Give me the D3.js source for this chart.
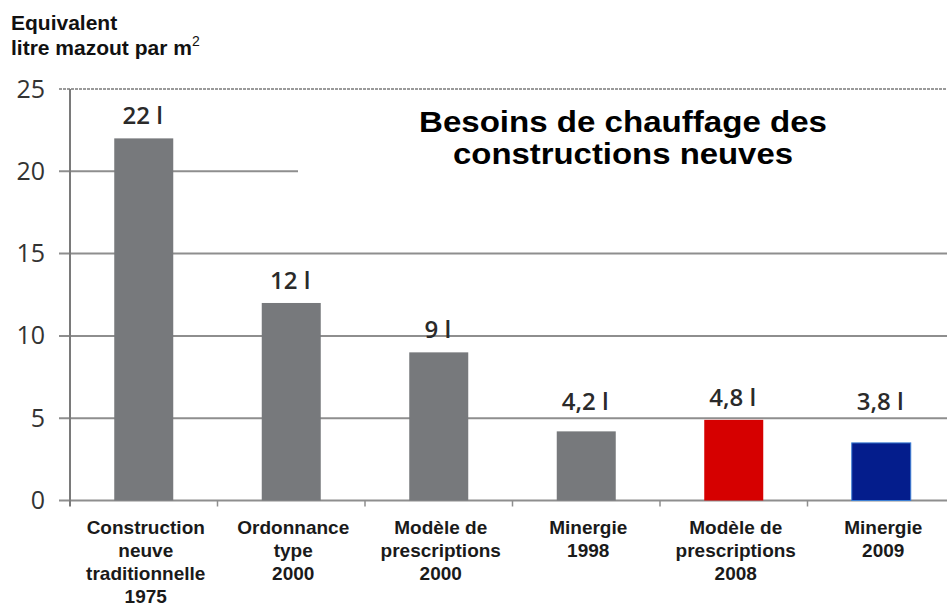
<!DOCTYPE html>
<html><head><meta charset="utf-8">
<script src="https://cdn.jsdelivr.net/npm/d3@7"></script>
<style>body{margin:0;background:#fff}svg{display:block}</style>
</head><body>
<svg id="c" width="947" height="604"></svg>
<script>
const categories = [
  "Construction|neuve|traditionnelle|1975",
  "Ordonnance|type|2000",
  "Modèle de|prescriptions|2000",
  "Minergie|1998",
  "Modèle de|prescriptions|2008",
  "Minergie|2009"
];
const values = [22, 12, 9, 4.2, 4.9, 3.5];
const valueLabels = ["22 l", "12 l", "9 l", "4,2 l", "4,8 l", "3,8 l"];
const yTicks = [0, 5, 10, 15, 20, 25];
const barColors = ["#77797c", "#77797c", "#77797c", "#77797c", "#d60000", "#041d8c"];
const titleLines = ["Besoins de chauffage des", "constructions neuves"];
const titleWidths = [408, 340];

const svg = d3.select("#c");
const x = d3.scaleBand().domain(categories).range([70, 955]).paddingInner(0.6).paddingOuter(0.3);
const y = d3.scaleLinear().domain([0, 25]).range([500.5, 89]);

// gridlines
svg.append("g").selectAll("line").data(yTicks).join("line")
  .attr("x1", 59).attr("x2", 947)
  .attr("y1", d => y(d)).attr("y2", d => y(d))
  .attr("stroke", d => d === 25 ? "#9a9a9a" : "#8e8e8e")
  .attr("stroke-width", 2)
  .attr("stroke-dasharray", d => d === 25 ? "3,1" : null);

// white box behind title (covers gridline)
svg.append("rect").attr("x", 298).attr("y", 150).attr("width", 660).attr("height", 45).attr("fill", "#fff");

// y axis line
svg.append("line").attr("x1", 70).attr("x2", 70).attr("y1", y(25)).attr("y2", y(0) + 6)
  .attr("stroke", "#7a7a7a").attr("stroke-width", 2);

// y tick labels
svg.append("g").selectAll("text").data(yTicks).join("text")
  .attr("x", 45).attr("y", d => y(d) + 8.5)
  .attr("text-anchor", "end")
  .attr("font-family", "Open Sans").attr("font-size", 25).attr("fill", "#333")
  .text(d => d);

// category boundary ticks
const step = x.step();
svg.append("g").selectAll("line").data(categories.slice(1)).join("line")
  .attr("x1", d => x(d) - step * 0.3).attr("x2", d => x(d) - step * 0.3)
  .attr("y1", y(0)).attr("y2", y(0) + 6)
  .attr("stroke", "#8e8e8e").attr("stroke-width", 1.5);

// bars
svg.append("g").selectAll("rect").data(categories).join("rect")
  .attr("x", d => x(d)).attr("width", x.bandwidth())
  .attr("y", (d, i) => y(values[i]))
  .attr("height", (d, i) => y(0) - y(values[i]))
  .attr("fill", (d, i) => barColors[i])
  .attr("stroke", (d, i) => i === 5 ? "#3c7ed4" : null)
  .attr("stroke-width", 1);

// value labels
svg.append("g").selectAll("text").data(categories).join("text")
  .attr("x", d => x(d) + x.bandwidth() / 2 - 1)
  .attr("y", (d, i) => Math.min(y(values[i]) - 14, y(5.5)))
  .attr("text-anchor", "middle")
  .attr("font-family", "Open Sans").attr("font-weight", 600).attr("font-size", 24).attr("fill", "#2a2a2a")
  .text((d, i) => valueLabels[i]);

// category labels
const cat = svg.append("g").selectAll("text").data(categories).join("text")
  .attr("y", 534)
  .attr("text-anchor", "middle")
  .attr("font-family", "Liberation Sans, Arial, sans-serif").attr("font-weight", "bold")
  .attr("font-size", 19).attr("fill", "#1a1a1a");
cat.each(function(d) {
  const t = d3.select(this);
  d.split("|").forEach((ln, j) => {
    t.append("tspan").attr("x", x(d) + x.bandwidth() / 2 + 2).attr("dy", j === 0 ? 0 : 23).text(ln);
  });
});

// y-axis title
const yt = svg.append("text").attr("font-family", "Liberation Sans, Arial, sans-serif")
  .attr("font-weight", "bold").attr("font-size", 21).attr("fill", "#111");
yt.append("tspan").attr("x", 11).attr("y", 30).text("Equivalent");
yt.append("tspan").attr("x", 11).attr("y", 55).text("litre mazout par m");
yt.append("tspan").attr("dy", -9).attr("font-size", 14).attr("font-weight", "normal").text("2");

// title
svg.append("g").selectAll("text").data(titleLines).join("text")
  .attr("x", 623).attr("y", (d, i) => 132 + i * 32)
  .attr("text-anchor", "middle")
  .attr("font-family", "Liberation Sans, Arial, sans-serif").attr("font-weight", "bold")
  .attr("font-size", 29).attr("fill", "#000")
  .attr("textLength", (d, i) => titleWidths[i])
  .attr("lengthAdjust", "spacingAndGlyphs")
  .text(d => d);
</script>
</body></html>
